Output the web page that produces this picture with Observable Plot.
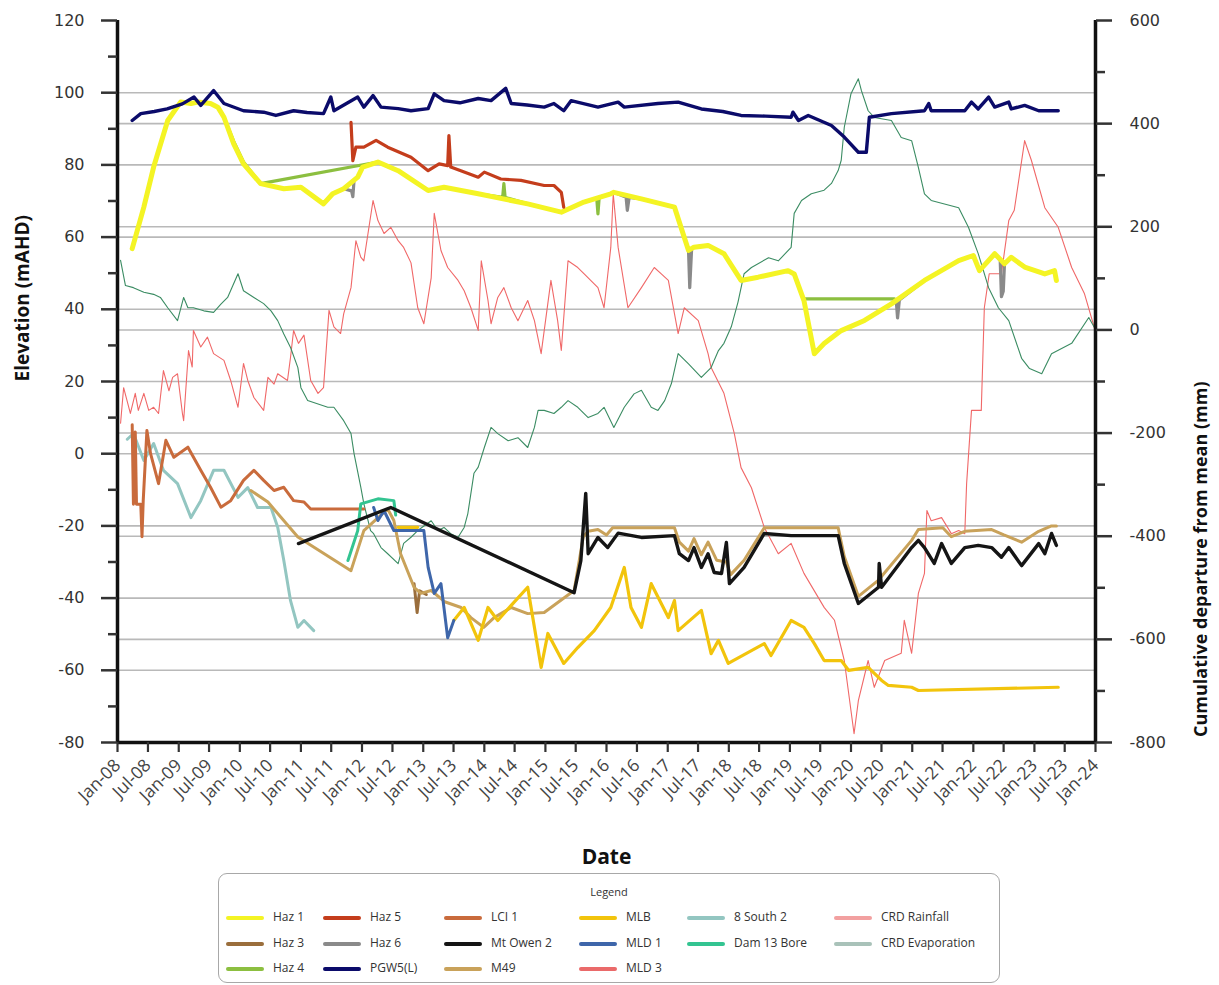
<!DOCTYPE html>
<html><head><meta charset="utf-8">
<script src="https://cdn.jsdelivr.net/npm/d3@7"></script>
<script src="https://cdn.jsdelivr.net/npm/@observablehq/plot@0.6"></script>
<style>
body{margin:0;background:#fff;}
#wrap{position:relative;width:1219px;height:985px;background:#fff;overflow:hidden;}
#chart{position:absolute;left:0;top:0;}
#legend{position:absolute;left:218px;top:873px;width:782px;height:110px;border:1.5px solid #a8a8a8;border-radius:9px;box-sizing:border-box;font-family:"Open Sans",sans-serif;color:#333;}
#legend .ttl{position:absolute;left:0;width:100%;top:10px;text-align:center;font-size:11px;}
#legend .it{position:absolute;height:16px;font-size:12px;line-height:16px;white-space:nowrap;}
#legend .sw{display:inline-block;width:38px;height:4px;vertical-align:middle;margin-right:9px;border-radius:2px;}
</style></head>
<body><div id="wrap"><div id="chart"></div><div id="legend"><div class="ttl">Legend</div></div></div>
<script>
// ---------- data (decimal year, value) ----------
// Elevation series (mAHD, left axis)
const haz1 = [[2008.24,56.8],[2008.43,68.3],[2008.59,79.4],[2008.82,92.3],[2009.03,97.4],[2009.20,97],[2009.31,97.4],[2009.52,97],[2009.64,96],[2009.74,93.2],[2009.90,85.8],[2010.06,80.3],[2010.34,74.8],[2010.72,73.4],[2011.00,73.8],[2011.37,69.2],[2011.52,72],[2011.70,73.4],[2011.93,76.6],[2012.01,79.4],[2012.26,80.8],[2012.59,78.4],[2013.08,72.9],[2013.34,73.8],[2013.90,72],[2014.71,69.2],[2015.26,66.9],[2015.63,69.7],[2016.07,72],[2016.12,72.4],[2016.57,70.6],[2017.11,68.3],[2017.34,56.3],[2017.43,57.2],[2017.66,57.7],[2017.92,55.4],[2018.20,48],[2018.48,48.9],[2018.97,50.7],[2019.07,49.8],[2019.23,42.4],[2019.40,27.7],[2019.56,30.5],[2019.84,34.1],[2020.22,36.9],[2020.66,41.5],[2021.20,48],[2021.76,53.5],[2022.00,54.9],[2022.10,50.7],[2022.35,55.4],[2022.51,52.6],[2022.62,54.4],[2022.84,51.7],[2023.17,49.8],[2023.33,50.7],[2023.36,48]];
const haz3 = [[2012.85,-36],[2012.90,-44],[2012.94,-38],[2013.05,-39]];
const haz4 = [[2009.64,96],[2009.74,93.2],[2009.90,86.5],[2010.06,80.8],[2010.34,74.8],[2012.26,80.8],[2012.59,78.4],[2013.08,72.9],[2013.34,73.8],[2013.90,72],[2014.30,71],[2014.32,74.8],[2014.34,71],[2014.71,69.2],[2015.26,66.9],[2015.63,69.7],[2015.84,70.8],[2015.86,66.4],[2015.88,71],[2016.07,72],[2016.10,null],[2019.22,42.9],[2020.71,42.9]];
const haz5 = [[2011.82,91.8],[2011.85,81.2],[2011.90,84.9],[2012.03,84.9],[2012.23,86.8],[2012.42,84.9],[2012.80,82.1],[2013.08,78.4],[2013.26,80.3],[2013.40,79.8],[2013.42,88.1],[2013.45,79.4],[2013.90,76.6],[2014.00,78],[2014.27,76.1],[2014.60,75.7],[2014.98,74.3],[2015.14,74.3],[2015.26,72.4],[2015.30,68.3]];
const haz6 = [[2011.70,73.4],[2011.83,72.8],[2011.85,71.2],[2011.87,75.8],[2011.93,76.6],[2012.01,79.4],[2012.26,80.8],[2012.59,78.4],[2013.08,72.9],[2013.34,73.8],[2013.90,72],[2014.71,69.2],[2015.26,66.9],[2015.63,69.7],[2016.07,72],[2016.12,72.4],[2016.32,71],[2016.34,67.4],[2016.37,71],[2016.57,70.6],[2017.11,68.3],[2017.34,56.3],[2017.36,46],[2017.39,56.5],[2017.43,57.2],[2017.66,57.7],[2017.92,55.4],[2018.20,48],[2018.48,48.9],[2018.97,50.7],[2019.07,49.8],[2019.23,42.4],[2019.40,27.7],[2019.56,30.5],[2019.84,34.1],[2020.22,36.9],[2020.66,41.5],[2020.74,42.2],[2020.76,37.6],[2020.79,42.6],[2021.20,48],[2021.76,53.5],[2022.00,54.9],[2022.10,50.7],[2022.35,55.4],[2022.44,53.5],[2022.46,43.5],[2022.49,45],[2022.51,52.6],[2022.62,54.4]];
const pgw5 = [[2008.24,92.3],[2008.38,94.2],[2008.6,94.8],[2008.81,95.5],[2009.06,96.9],[2009.25,98.8],[2009.36,96.5],[2009.57,100.6],[2009.74,97],[2010.06,95],[2010.39,94.6],[2010.59,93.7],[2010.88,95],[2011.1,94.5],[2011.37,94.2],[2011.49,98.8],[2011.54,95],[2011.93,98.8],[2012.03,96],[2012.18,99.2],[2012.31,96],[2012.59,95.6],[2012.80,95],[2013.08,95.6],[2013.18,99.7],[2013.34,97.8],[2013.6,97.2],[2013.90,98.4],[2014.11,97.8],[2014.35,101.2],[2014.44,97],[2014.7,96.6],[2014.98,96],[2015.14,97],[2015.30,95],[2015.42,97.8],[2015.86,96],[2016.19,97.4],[2016.29,96],[2016.84,97],[2017.17,97.4],[2017.55,95.5],[2017.9,94.8],[2018.20,93.7],[2018.6,93.5],[2019.02,93.2],[2019.05,94.6],[2019.14,92.3],[2019.30,93.7],[2019.68,90.9],[2019.89,87.7],[2020.12,83.5],[2020.25,83.5],[2020.30,93.2],[2020.66,94.2],[2021.20,95],[2021.27,97],[2021.31,95],[2021.86,95],[2021.97,97.4],[2022.08,95.5],[2022.25,98.8],[2022.35,96],[2022.58,97.4],[2022.62,95.5],[2022.84,96.5],[2023.07,95],[2023.39,95]];
const lci1 = [[2008.24,8],[2008.26,-14],[2008.29,6],[2008.31,-14],[2008.38,-14],[2008.40,-23],[2008.42,-13],[2008.48,6.4],[2008.54,0],[2008.67,-8.3],[2008.79,3.7],[2008.92,-1],[2009.15,1.8],[2009.36,-4.6],[2009.52,-9.3],[2009.69,-14.8],[2009.85,-13],[2010.06,-7.4],[2010.23,-4.6],[2010.39,-7.4],[2010.56,-10.2],[2010.72,-9.3],[2010.88,-13],[2011.05,-13.4],[2011.16,-15.3],[2012.03,-15.3]];
const mtOwen2 = [[2010.96,-24.9],[2012.47,-14.9],[2015.47,-38.5],[2015.58,-29.6],[2015.66,-11],[2015.70,-27.7],[2015.86,-23.2],[2016.02,-26],[2016.19,-22],[2016.57,-23.2],[2017.11,-22.7],[2017.19,-27.7],[2017.34,-29.6],[2017.43,-26],[2017.55,-31.5],[2017.66,-27.7],[2017.76,-32.9],[2017.88,-33.2],[2017.96,-24.6],[2018.01,-36],[2018.25,-31.5],[2018.58,-22.1],[2019.02,-22.7],[2019.79,-22.7],[2019.89,-30.4],[2020.12,-41.5],[2020.45,-37],[2020.46,-30.4],[2020.50,-37],[2020.99,-26],[2021.10,-24],[2021.20,-26],[2021.36,-30.4],[2021.48,-24.9],[2021.64,-30.4],[2021.86,-26],[2022.08,-25.4],[2022.30,-26],[2022.46,-28.7],[2022.58,-26],[2022.79,-31],[2023.07,-24.9],[2023.17,-27.7],[2023.28,-22.1],[2023.36,-25.4]];
const m49 = [[2010.18,-10.2],[2010.46,-13.4],[2010.95,-23.1],[2011.82,-32.4],[2012.03,-21.3],[2012.42,-15.3],[2012.52,-18.5],[2012.63,-27.7],[2012.85,-37],[2012.96,-38.7],[2013.13,-37.9],[2013.35,-41],[2013.62,-42.6],[2013.78,-45.4],[2013.99,-48.1],[2014.16,-45.4],[2014.44,-42.6],[2014.71,-44.3],[2014.98,-44],[2015.47,-37.9],[2015.55,-30],[2015.62,-23],[2015.70,-21.5],[2015.86,-21],[2016.00,-22.5],[2016.10,-20.5],[2017.11,-20.5],[2017.19,-24.5],[2017.34,-27],[2017.43,-23.5],[2017.55,-28],[2017.66,-24.5],[2017.80,-29.5],[2017.96,-30],[2018.03,-33.5],[2018.25,-29.5],[2018.58,-20.5],[2019.79,-20.5],[2019.89,-28.5],[2020.12,-39.5],[2020.45,-35],[2020.99,-24],[2021.10,-21],[2021.50,-20.5],[2021.64,-23],[2021.86,-21.5],[2022.30,-21],[2022.50,-22.5],[2022.79,-24.5],[2023.07,-21.5],[2023.28,-20],[2023.36,-20]];
const mlb = [[2012.59,-20.4],[2012.91,-20.4],[2012.95,null],[2013.50,-46.2],[2013.67,-42.6],[2013.90,-51.7],[2014.06,-42.6],[2014.22,-46.2],[2014.44,-42],[2014.71,-37],[2014.93,-59.2],[2015.04,-49.8],[2015.30,-58.1],[2015.53,-53.7],[2015.80,-49],[2016.07,-42.6],[2016.29,-31.5],[2016.40,-42.6],[2016.57,-48.1],[2016.73,-36],[2017.01,-45.4],[2017.11,-40.7],[2017.17,-49],[2017.55,-43.4],[2017.71,-55.4],[2017.83,-51.7],[2017.99,-58.1],[2018.58,-52.6],[2018.69,-55.9],[2019.02,-46.2],[2019.23,-48.1],[2019.40,-52.6],[2019.56,-57.3],[2019.84,-57.3],[2019.96,-60],[2020.28,-59.2],[2020.50,-62.8],[2020.61,-64.2],[2020.99,-64.7],[2021.10,-65.6],[2023.39,-64.7]];
const mld1 = [[2012.19,-14.9],[2012.26,-18.5],[2012.36,-15.8],[2012.52,-21.3],[2013.01,-21.3],[2013.08,-31.5],[2013.18,-38.7],[2013.29,-36],[2013.40,-51],[2013.50,-46.2]];
const mld3 = [];
const south82 = [[2008.16,4],[2008.26,5.6],[2008.43,-1.9],[2008.59,2.8],[2008.75,-4.6],[2008.98,-8.3],[2009.20,-17.7],[2009.36,-13],[2009.57,-4.6],[2009.74,-4.6],[2009.97,-12.1],[2010.13,-9.4],[2010.29,-14.9],[2010.51,-14.9],[2010.62,-20.4],[2010.72,-29.6],[2010.83,-40.7],[2010.95,-48.1],[2011.05,-46.2],[2011.21,-49]];
const dam13 = [[2011.77,-29.6],[2011.93,-21.3],[2011.98,-13.9],[2012.26,-12.5],[2012.52,-13],[2012.55,-17]];
// Cumulative departure from mean (mm, right axis)
const crdRain = [[2008.05,-181],[2008.10,-112],[2008.21,-162],[2008.29,-123],[2008.34,-156],[2008.43,-123],[2008.51,-156],[2008.59,-150],[2008.67,-162],[2008.75,-79],[2008.84,-118],[2008.90,-92],[2008.98,-85],[2009.06,-162],[2009.08,-176],[2009.16,-40],[2009.22,-72],[2009.24,-1],[2009.36,-33],[2009.47,-14],[2009.57,-46],[2009.74,-59],[2009.85,-98],[2009.97,-150],[2010.06,-65],[2010.13,-98],[2010.23,-131],[2010.39,-156],[2010.46,-92],[2010.56,-105],[2010.62,-85],[2010.78,-98],[2010.83,-53],[2010.88,-1],[2010.96,-26],[2011.05,-10],[2011.16,-98],[2011.28,-123],[2011.37,-112],[2011.46,38],[2011.54,6],[2011.65,-7],[2011.70,31],[2011.82,82],[2011.90,173],[2011.98,141],[2012.03,134],[2012.18,251],[2012.26,212],[2012.36,187],[2012.47,199],[2012.59,173],[2012.68,160],[2012.80,130],[2012.91,43],[2013.01,12],[2013.13,101],[2013.18,226],[2013.29,154],[2013.40,121],[2013.57,96],[2013.67,76],[2013.78,43],[2013.90,-1],[2013.95,134],[2014.06,57],[2014.11,12],[2014.22,63],[2014.32,82],[2014.44,43],[2014.55,18],[2014.71,57],[2014.82,18],[2014.93,-46],[2015.09,96],[2015.20,18],[2015.26,-40],[2015.37,134],[2015.53,121],[2015.63,109],[2015.86,82],[2015.96,43],[2016.07,160],[2016.11,264],[2016.19,160],[2016.35,43],[2016.57,82],[2016.78,121],[2016.89,109],[2017.01,96],[2017.17,-7],[2017.27,43],[2017.50,18],[2017.66,-46],[2017.71,-73],[2017.92,-123],[2018.09,-201],[2018.20,-267],[2018.37,-306],[2018.58,-383],[2018.81,-434],[2019.02,-414],[2019.23,-472],[2019.56,-538],[2019.73,-563],[2019.89,-641],[2020.05,-783],[2020.12,-719],[2020.28,-641],[2020.38,-693],[2020.55,-641],[2020.82,-627],[2020.87,-563],[2020.99,-627],[2021.10,-511],[2021.20,-472],[2021.24,-350],[2021.31,-370],[2021.48,-364],[2021.64,-395],[2021.76,-389],[2021.86,-395],[2021.89,-298],[2021.97,-156],[2022.13,-156],[2022.18,43],[2022.26,109],[2022.46,109],[2022.58,212],[2022.67,232],[2022.84,367],[2022.95,329],[2023.17,237],[2023.39,199],[2023.61,121],[2023.82,70],[2023.98,5],[2024.0,-10]];
const crdEvap = [[2008.05,135],[2008.13,86],[2008.26,82],[2008.43,73],[2008.59,69],[2008.70,63],[2008.82,43],[2008.98,18],[2009.08,63],[2009.15,43],[2009.24,43],[2009.41,37],[2009.57,34],[2009.69,50],[2009.80,63],[2009.97,109],[2010.06,76],[2010.23,63],[2010.39,51],[2010.51,37],[2010.62,18],[2010.72,-8],[2010.83,-34],[2010.95,-73],[2011.00,-112],[2011.11,-137],[2011.44,-150],[2011.54,-150],[2011.70,-176],[2011.82,-201],[2011.87,-240],[2011.98,-305],[2012.03,-337],[2012.14,-389],[2012.19,-395],[2012.31,-422],[2012.42,-434],[2012.59,-453],[2012.68,-414],[2012.80,-402],[2012.91,-389],[2013.13,-370],[2013.24,-389],[2013.34,-383],[2013.45,-395],[2013.57,-402],[2013.67,-383],[2013.73,-356],[2013.83,-278],[2013.90,-266],[2014.00,-228],[2014.11,-189],[2014.22,-201],[2014.39,-215],[2014.55,-209],[2014.71,-228],[2014.82,-189],[2014.88,-156],[2014.98,-156],[2015.14,-162],[2015.26,-150],[2015.37,-137],[2015.53,-150],[2015.70,-170],[2015.86,-162],[2015.96,-150],[2016.12,-189],[2016.29,-150],[2016.45,-124],[2016.57,-117],[2016.73,-150],[2016.84,-156],[2016.95,-137],[2017.06,-104],[2017.17,-46],[2017.34,-66],[2017.55,-92],[2017.71,-73],[2017.83,-40],[2017.92,-26],[2018.04,6],[2018.15,54],[2018.25,109],[2018.37,121],[2018.65,140],[2018.81,134],[2019.02,160],[2019.07,226],[2019.19,251],[2019.35,264],[2019.56,271],[2019.68,284],[2019.79,309],[2019.84,329],[2019.89,393],[2020.00,458],[2020.12,487],[2020.17,464],[2020.28,425],[2020.38,412],[2020.66,406],[2020.82,373],[2020.99,367],[2021.10,315],[2021.20,264],[2021.31,251],[2021.76,237],[2021.92,199],[2022.08,148],[2022.25,82],[2022.41,43],[2022.58,18],[2022.79,-55],[2022.92,-75],[2023.12,-85],[2023.28,-46],[2023.61,-26],[2023.89,24],[2023.98,5]];

// axis ticks
const leftMajor = [-80,-60,-40,-20,0,20,40,60,80,100,120];
const leftMinor = [-70,-50,-30,-10,10,30,50,70,90,110];
const rightMajor = [-800,-600,-400,-200,0,200,400,600];
const rightMinor = [-700,-500,-300,-100,100,300,500];
const leftGrid = [-60,-40,-20,0,20,40,60,80,100];
const rightGrid = [-600,-400,-200,0,200,400];

// series names, colours, widths (drawing order bottom -> top)
const names   = ["CRD Rainfall","CRD Evaporation","8 South 2","LCI 1","Haz 3","M49","MLB","Dam 13 Bore","MLD 1","MLD 3","Mt Owen 2","Haz 6","Haz 4","Haz 1","Haz 5","PGW5(L)"];
const colors  = ["#f06868","#3b8c63","#93c6c1","#c96b3c","#9a6e3c","#c9a25a","#f2c40c","#33c491","#3e66aa","#ea6a6a","#151515","#8a8a8a","#8cbf40","#f4f424","#c43d1c","#0b0b6a"];
const widths  = [1.1,1.1,3,3,3,3,3.2,3,3,3,3.4,3.2,3.2,5,3.2,3.4];
const onRight = [true,true,false,false,false,false,false,false,false,false,false,false,false,false,false,false];
const values  = [crdRain,crdEvap,south82,lci1,haz3,m49,mlb,dam13,mld1,mld3,mtOwen2,haz6,haz4,haz1,haz5,pgw5];
// legend layout (row-major as in the reference)
const legendRows = [["Haz 1","Haz 5","LCI 1","MLB","8 South 2","CRD Rainfall"],["Haz 3","Haz 6","Mt Owen 2","MLD 1","Dam 13 Bore","CRD Evaporation"],["Haz 4","PGW5(L)","M49","MLD 3"]];
const legendSwatch = {"CRD Evaporation":"#a9c2b9","CRD Rainfall":"#f2a0a0"};

// ---------- build ----------
const toY = mm => mm/7 + 800/7 - 80;
const fromY = v => (v + 80 - 800/7) * 7;
function toDate(v){const y=Math.floor(v);const a=Date.UTC(y,0,1),b=Date.UTC(y+1,0,1);return new Date(a+(v-y)*(b-a));}
const X0 = new Date(Date.UTC(2008,0,1)), X1 = new Date(Date.UTC(2024,0,1));
const xTicks = d3.utcMonth.every(6).range(X0, new Date(Date.UTC(2024,0,2)));

const lineMarks = names.map((n,i)=>{
  const rows = values[i].map(([t,v])=>({date:toDate(t), value: v==null?null:(onRight[i]?toY(v):v)}));
  return Plot.line(rows,{x:"date",y:"value",stroke:colors[i],strokeWidth:widths[i],strokeLinejoin:"round",strokeLinecap:"round"});
});

const tickFont = {fontFamily:"DejaVu Sans", fontSize:16};
const chart = Plot.plot({
  width:1219, height:875, marginLeft:117, marginRight:124, marginTop:20, marginBottom:133,
  x:{type:"utc", domain:[X0,X1]},
  y:{domain:[-80,120]},
  style:{background:"white", color:"#333", fontFamily:"DejaVu Sans"},
  marks:[
    Plot.ruleY(leftGrid,{stroke:"#b9b9b9",strokeWidth:1.6}),
    Plot.ruleY(rightGrid.map(toY),{stroke:"#b9b9b9",strokeWidth:1.6}),
    ...lineMarks,
    Plot.ruleX([X0],{stroke:"#111",strokeWidth:3.5}),
    Plot.ruleX([X1],{stroke:"#111",strokeWidth:3.5}),
    Plot.ruleY([-80],{stroke:"#111",strokeWidth:3.5}),
    Plot.axisY({ticks:leftMajor,tickSize:16,tickPadding:17,strokeWidth:2.5,tickFormat:d=>String(d),label:null,...tickFont}),
    Plot.axisY({ticks:leftMinor,tickSize:9,strokeWidth:2.5,tickFormat:()=>"",label:null}),
    Plot.axisY({anchor:"right",ticks:rightMajor.map(toY),tickSize:16,tickPadding:18,strokeWidth:2.5,tickFormat:v=>String(Math.round(fromY(v))),label:null,...tickFont}),
    Plot.axisY({anchor:"right",ticks:rightMinor.map(toY),tickSize:9,strokeWidth:2.5,tickFormat:()=>"",label:null}),
    Plot.axisX({ticks:xTicks,tickSize:10,strokeWidth:2.2,tickRotate:-45,tickPadding:10,tickFormat:d3.utcFormat("%b-%y"),label:null,fontFamily:"Open Sans",fontSize:17.5,fill:"#444"}),
    Plot.text(["Elevation (mAHD)"],{text:d=>d,frameAnchor:"left",dx:-95,rotate:-90,fontWeight:"bold",fontSize:19,fontFamily:"Open Sans",fill:"#111"}),
    Plot.text(["Cumulative departure from mean (mm)"],{text:d=>d,frameAnchor:"right",dx:106,rotate:-90,fontWeight:"bold",fontSize:18,fontFamily:"Open Sans",fill:"#111"}),
    Plot.text(["Date"],{text:d=>d,frameAnchor:"bottom",dy:121,fontWeight:"bold",fontSize:21,fontFamily:"Open Sans",fill:"#111"})
  ]
});
document.getElementById("chart").appendChild(chart);

// legend
const legend = document.getElementById("legend");
const colX = [7,104,225,360,468,615];
const rowY = [35,61,86];
legendRows.forEach((row,r)=>row.forEach((n,c)=>{
  const i = names.indexOf(n);
  const it = document.createElement("div");
  it.className="it"; it.style.left=colX[c]+"px"; it.style.top=rowY[r]+"px";
  const sw = document.createElement("span"); sw.className="sw"; sw.style.background = legendSwatch[n] || colors[i];
  it.appendChild(sw); it.appendChild(document.createTextNode(n));
  legend.appendChild(it);
}));
</script></body></html>
